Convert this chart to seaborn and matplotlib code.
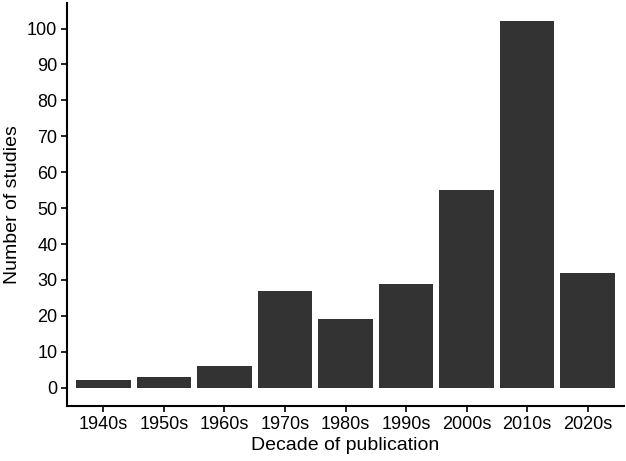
import pandas as pd
import matplotlib
matplotlib.use("Agg")
import matplotlib.pyplot as plt
import seaborn as sns

# dane
decades = ["1940s", "1950s", "1960s", "1970s", "1980s", "1990s", "2000s", "2010s", "2020s"]
counts = [2, 3, 6, 27, 19, 29, 55, 102, 32]

df = pd.DataFrame({"decade": decades, "n": counts})

sns.set_style("ticks")
plt.rcParams["font.family"] = ["Liberation Sans", "DejaVu Sans"]

fig = plt.figure(figsize=(6.26, 4.61), dpi=100)
ax = fig.add_axes([67 / 626, 1 - 406 / 461, (624 - 67) / 626, (406 - 3) / 461])

sns.barplot(data=df, x="decade", y="n", color="#333333", saturation=1, width=0.9,
            linewidth=0, ax=ax)

ax.set_xlim(-0.6, 8.6)
ax.set_ylim(-5.1, 107.1)
ax.set_yticks(range(0, 101, 10))
ax.set_xlabel("Decade of publication", fontsize=14, color="black", labelpad=3)
ax.set_ylabel("Number of studies", fontsize=14, color="black", labelpad=4)
ax.tick_params(labelsize=13, colors="black", length=4, width=1.2, pad=3)
for s in ["top", "right"]:
    ax.spines[s].set_visible(False)
for s in ["left", "bottom"]:
    ax.spines[s].set_linewidth(1.5)
    ax.spines[s].set_color("black")

fig.savefig("out.png", dpi=100)
